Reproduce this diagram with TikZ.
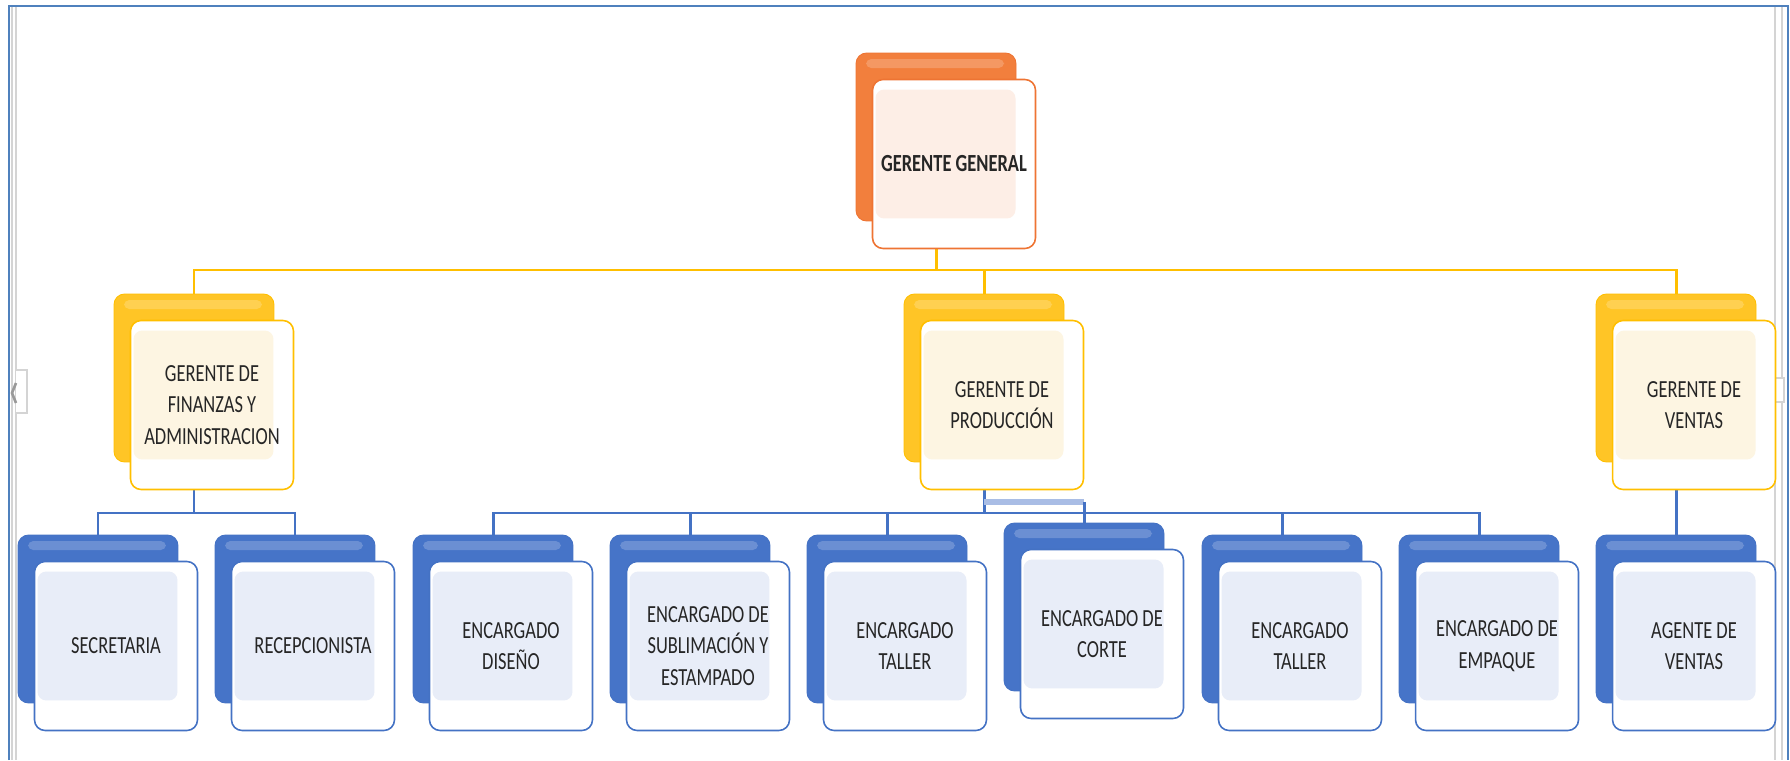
\documentclass[tikz,border=0pt]{standalone}
\usepackage{fontspec}
\setmainfont{Carlito}[FakeStretch=0.75]
\usetikzlibrary{backgrounds}

\definecolor{naranjaBase}{HTML}{F27F3D}
\definecolor{naranjaLinea}{HTML}{EE7433}
\definecolor{naranjaTinte}{HTML}{FDEEE6}
\definecolor{amarilloBase}{HTML}{FFC526}
\definecolor{amarilloLinea}{HTML}{FFBF00}
\definecolor{amarilloTinte}{HTML}{FDF5E2}
\definecolor{azulBase}{HTML}{4674C8}
\definecolor{azulLinea}{HTML}{4472C4}
\definecolor{azulTinte}{HTML}{E8EDF8}
\definecolor{azulClaro}{HTML}{A9BDE5}
\definecolor{marco}{HTML}{4F81BD}
\definecolor{gris}{HTML}{D4D4D4}

\tikzset{
	fondo/.style={rounded corners=6pt, fill=#1Base, draw=#1Linea, line width=0.5pt,
		minimum width=3.2cm, minimum height=3.36cm, inner sep=0pt, outer sep=0pt,
		path picture={\fill[white, opacity=0.2, rounded corners=3pt] ([shift={(10,6)}]path picture bounding box.north west) rectangle ([shift={(-12,15)}]path picture bounding box.north east);}},
	frente/.style={rounded corners=6pt, fill=white, draw=#1Linea, line width=0.9pt,
		minimum width=3.26cm, minimum height=3.38cm, inner sep=0pt, outer sep=0pt,
		align=center, font=\fontsize{14}{18}\selectfont, text=black!85,
		path picture={\fill[#1Tinte, rounded corners=5pt] ([shift={(3,10)}]path picture bounding box.north west) rectangle ([shift={(-20,-30)}]path picture bounding box.south east);}},
	lamarilla/.style={draw=amarilloLinea, line width=1.7pt},
	lazul/.style={draw=azulLinea, line width=1.7pt},
	lclara/.style={draw=azulClaro, line width=3pt},
}

% name, x, y, colour, text
\newcommand{\puesto}[5]{%
	\node[fondo=#4] (#1-b) at (#2,#3) {};
	\node[frente=#4] (#1) at (#2+18,#3+27) {#5};
}

\begin{document}
\begin{tikzpicture}[x=0.02cm, y=-0.02cm]
	\useasboundingbox (0,0) rectangle (1790,760);
	
	% window frame
	\draw[gris, line width=1pt] (12,7) -- (12,760) (16,7) -- (16,760) (1775,7) -- (1775,760) (1782,7) -- (1782,760);
	\draw[marco, line width=1.3pt] (9,760) -- (9,6) -- (1788,6) -- (1788,760);
	\draw[gris, fill=white, line width=1pt] (16,370) -- (27,370) -- (27,413) -- (16,413);
	\draw[gray!80, line width=1.5pt] (16,383) -- (12,393) -- (16,403);
	\draw[gris, fill=white, line width=1pt] (1773,378) rectangle (1784,402);
	
	% level 1
	\puesto{gg}{936}{137}{naranja}{\textbf{GERENTE GENERAL}}
	
	% level 2
	\puesto{fin}{194}{378}{amarillo}{GERENTE DE\\FINANZAS Y\\ADMINISTRACION}
	\puesto{prod}{984}{378}{amarillo}{GERENTE DE\\PRODUCCIÓN}
	\puesto{ven}{1676}{378}{amarillo}{GERENTE DE\\VENTAS}
	
	% level 3
	\puesto{sec}{98}{619}{azul}{SECRETARIA}
	\puesto{rec}{295}{619}{azul}{RECEPCIONISTA}
	\puesto{dis}{493}{619}{azul}{ENCARGADO\\DISEÑO}
	\puesto{sub}{690}{619}{azul}{ENCARGADO DE\\SUBLIMACIÓN Y\\ESTAMPADO}
	\puesto{tal}{887}{619}{azul}{ENCARGADO\\TALLER}
	\puesto{cor}{1084}{607}{azul}{ENCARGADO DE\\CORTE}
	\puesto{talb}{1282}{619}{azul}{ENCARGADO\\TALLER}
	\puesto{emp}{1479}{619}{azul}{ENCARGADO DE\\EMPAQUE}
	\puesto{age}{1676}{619}{azul}{AGENTE DE\\VENTAS}
	
	\coordinate (bus1) at (936,270);
	\coordinate (bus2) at (984,513);
	\coordinate (buscor) at (984,502);
	
	\begin{pgfonlayer}{background}
		% yellow lines
		\draw[lamarilla] (gg-b.center) -- (gg-b |- bus1);
		\draw[lamarilla] (fin-b.north) -- (fin-b |- bus1) -- (ven-b |- bus1) -- (ven-b.north);
		\draw[lamarilla] (prod-b.north) -- (prod-b |- bus1);
		% blue lines
		\draw[lazul] (fin-b.center) -- (fin-b |- bus2);
		\draw[lazul] (sec-b.north) -- (sec-b |- bus2) -- (rec-b |- bus2) -- (rec-b.north);
		\draw[lazul] (prod-b.center) -- (prod-b |- bus2);
		\draw[lazul] (dis-b.north) -- (dis-b |- bus2) -- (emp-b |- bus2) -- (emp-b.north);
		\foreach \n in {sub,tal,talb}
			\draw[lazul] (\n-b.north) -- (\n-b |- bus2);
		\draw[lclara] (prod-b |- buscor) -- (cor-b |- buscor);
		\draw[lazul] (cor-b |- buscor) -- (cor-b.north);
		\draw[lazul] (ven-b.center) -- (age-b.north);
	\end{pgfonlayer}
	
\end{tikzpicture}
\end{document}
